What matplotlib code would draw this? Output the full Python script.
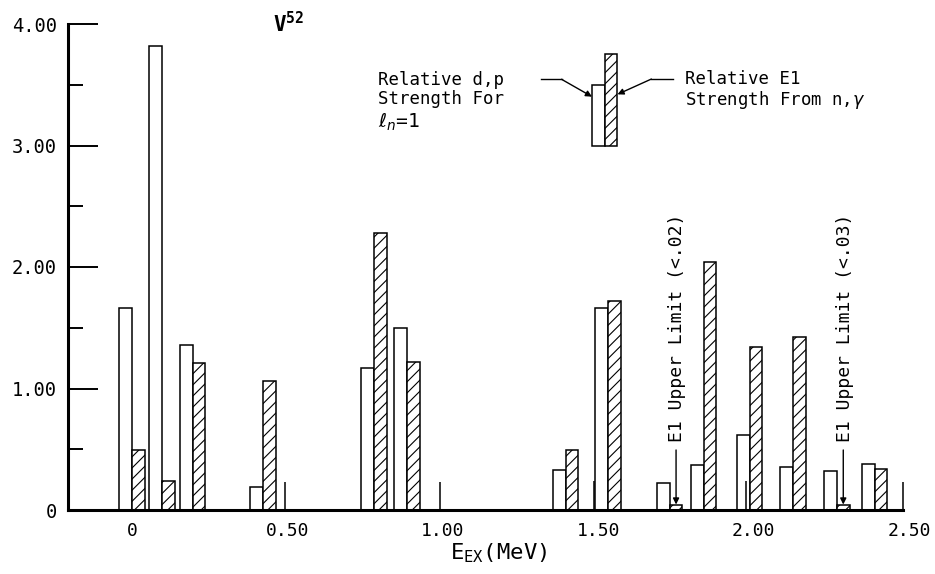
import matplotlib
matplotlib.use("Agg")
import matplotlib.pyplot as plt
import numpy as np

# ---------------- data ----------------
level_energy = [0.000, 0.097, 0.195, 0.422, 0.778, 0.885, 1.395, 1.532,
                1.730, 1.839, 1.987, 2.126, 2.268, 2.389]
dp_strength = [1.66, 3.82, 1.36, 0.19, 1.17, 1.50, 0.33, 1.66,
               0.22, 0.37, 0.62, 0.35, 0.32, 0.38]
e1_strength = [0.49, 0.24, 1.21, 1.06, 2.28, 1.22, 0.49, 1.72,
               0.04, 2.04, 1.34, 1.42, 0.04, 0.34]

unknown_level_energy = [0.492, 0.990, 1.486, 1.977, 2.480]
unknown_marker_height = [0.23, 0.23, 0.24, 0.24, 0.23]

upper_limit_energy = [1.730, 2.268]
upper_limit_labels = ["E1 Upper Limit (<.02)", "E1 Upper Limit (<.03)"]

x_ticks = [0.0, 0.5, 1.0, 1.5, 2.0, 2.5]
x_tick_labels = ["0", "0.50", "1.00", "1.50", "2.00", "2.50"]
y_ticks = [0, 1, 2, 3, 4]
y_tick_labels = ["0", "1.00", "2.00", "3.00", "4.00"]
y_minor_ticks = [0.5, 1.5, 2.5, 3.5]

legend_energy = 1.521
legend_base = 3.0
legend_dp = 0.50
legend_e1 = 0.75

# ---------------- styling ----------------
FONT = "DejaVu Sans Mono"
plt.rcParams["font.family"] = [FONT, "DejaVu Sans"]
plt.rcParams["hatch.linewidth"] = 0.8
plt.rcParams["mathtext.fontset"] = "dejavusans"

W = 0.041
EDGE_LW = 1.1

fig = plt.figure(figsize=(9.35, 5.74), dpi=100)
ax = fig.add_axes([68 / 935, 64 / 574, (909 - 68) / 935, (510 - 24) / 574])

ax.set_xlim(-0.206, 2.50)
ax.set_ylim(0, 4.0)

# d,p bars (open, left of level) and E1 bars (hatched, right of level)
ax.bar(level_energy, dp_strength, width=-W, align="edge",
       facecolor="white", edgecolor="black", linewidth=EDGE_LW, zorder=2)
ax.bar(level_energy, e1_strength, width=W, align="edge",
       facecolor="white", edgecolor="black", hatch="///",
       linewidth=EDGE_LW, zorder=2)

# levels with unknown strength
ax.vlines(unknown_level_energy, 0, unknown_marker_height, color="black",
          linewidth=1.1, zorder=3, clip_on=False)

# upper-limit annotations
for e, lab in zip(upper_limit_energy, upper_limit_labels):
    xc = e + W / 2
    ax.annotate("", xy=(xc, 0.045), xytext=(xc, 0.494),
                arrowprops=dict(arrowstyle="-|>", color="black", lw=1.0,
                                mutation_scale=9, shrinkA=0, shrinkB=0))
    ax.text(xc + 0.004, 0.56, lab, rotation=90, ha="center", va="bottom",
            fontsize=13)

# legend key
ax.bar([legend_energy], [legend_dp], bottom=legend_base, width=-W,
       align="edge", facecolor="white", edgecolor="black",
       linewidth=EDGE_LW, zorder=2)
ax.bar([legend_energy], [legend_e1], bottom=legend_base, width=W,
       align="edge", facecolor="white", edgecolor="black", hatch="///",
       linewidth=EDGE_LW, zorder=2)
ax.plot([1.317, 1.382], [3.545, 3.545], color="black", lw=1.0)
ax.annotate("", xy=(legend_energy - W, 3.402), xytext=(1.382, 3.545),
            arrowprops=dict(arrowstyle="-|>", color="black", lw=1.0,
                            mutation_scale=9, shrinkA=0, shrinkB=0))
ax.plot([1.671, 1.740], [3.547, 3.547], color="black", lw=1.0)
ax.annotate("", xy=(legend_energy + W, 3.421), xytext=(1.671, 3.547),
            arrowprops=dict(arrowstyle="-|>", color="black", lw=1.0,
                            mutation_scale=9, shrinkA=0, shrinkB=0))

ax.text(0.792, 3.539, "Relative d,p", ha="left", va="center", fontsize=12.5)
ax.text(0.792, 3.380, "Strength For", ha="left", va="center", fontsize=12.5)
ax.text(0.792, 3.195, r"$\ell_{n}$=1", ha="left", va="center", fontsize=14)
ax.text(1.778, 3.545, "Relative E1", ha="left", va="center", fontsize=12.5)
ax.text(1.778, 3.374, r"Strength From n,$\gamma$", ha="left", va="center",
        fontsize=12.5)

# title
ax.text(0.453, 3.93, r"$\mathregular{V^{52}}$", ha="left", va="baseline",
        fontsize=15, fontweight="bold")

# axes
for s in ("top", "right"):
    ax.spines[s].set_visible(False)
ax.spines["left"].set_linewidth(2.2)
ax.spines["bottom"].set_linewidth(2.2)
ax.spines["bottom"].set_bounds(-0.206, 2.48)

ax.set_yticks(y_ticks)
ax.set_yticklabels(y_tick_labels)
ax.set_yticks(y_minor_ticks, minor=True)
ax.tick_params(axis="y", which="major", direction="in", length=21.6,
               width=1.4, pad=8, labelsize=13.5)
ax.tick_params(axis="y", which="minor", direction="in", length=10.8,
               width=1.4)

ax.set_xticks(x_ticks)
ax.set_xticklabels(x_tick_labels)
ax.tick_params(axis="x", which="major", length=0, pad=8.6, labelsize=13)

ax.set_xlabel(r"$\mathregular{E_{EX}(MeV)}$", fontsize=16)
ax.xaxis.set_label_coords((499 - 68) / (909 - 68), -0.064)
ax.xaxis.label.set_va("top")

fig.savefig("out.png", dpi=100)
